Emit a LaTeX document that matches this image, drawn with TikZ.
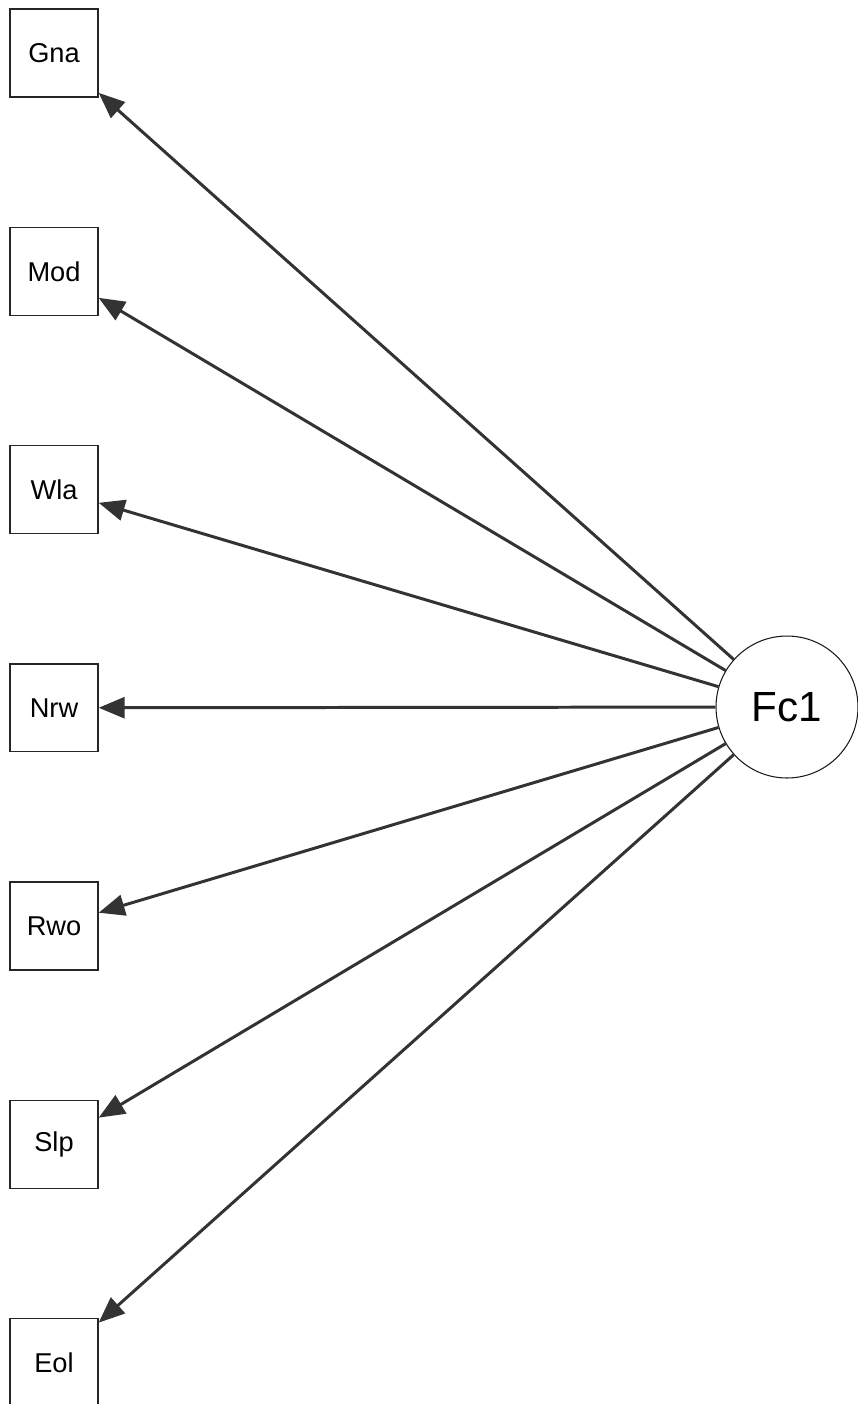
\documentclass[tikz,border=0pt]{standalone}
\usepackage{fontspec}
\setmainfont{Liberation Sans}
\usetikzlibrary{arrows.meta,positioning}
\definecolor{edgegray}{rgb}{0.2,0.2,0.2}

\begin{document}
\begin{tikzpicture}[
    x=0.02cm, y=-0.02cm,
    node distance=2.578cm,
    obs/.style={rectangle, draw=black!85, line width=0.8pt, fill=white, minimum size=1.76cm, inner sep=0pt, font=\fontsize{15.5}{18}\selectfont},
    latent/.style={circle, draw=black!90, line width=0.6pt, fill=white, minimum size=2.84cm, inner sep=0pt, font=\fontsize{24}{28}\selectfont},
    load/.style={-{Triangle[length=0.52cm, width=0.42cm]}, draw=edgegray, fill=edgegray, line width=1.7pt}
]
\useasboundingbox (0,0) rectangle (858,1404);

% --- indicators ---
\node[obs] (gna) at (54,53) {Gna};
\node[obs, below=of gna] (mod) {Mod};
\node[obs, below=of mod] (wla) {Wla};
\node[obs, below=of wla] (nrw) {Nrw};
\node[obs, below=of nrw] (rwo) {Rwo};
\node[obs, below=of rwo] (slp) {Slp};
\node[obs, below=of slp] (eol) {Eol};

% --- factor ---
\node[latent] (fc1) at (787,707) {Fc1};

% Loadings
\draw[load] (fc1) -- (gna);
\draw[load] (fc1) -- (mod);
\draw[load] (fc1) -- (wla);
\draw[load] (fc1) -- (nrw);
\draw[load] (fc1) -- (rwo);
\draw[load] (fc1) -- (slp);
\draw[load] (fc1) -- (eol);

\end{tikzpicture}
\end{document}
